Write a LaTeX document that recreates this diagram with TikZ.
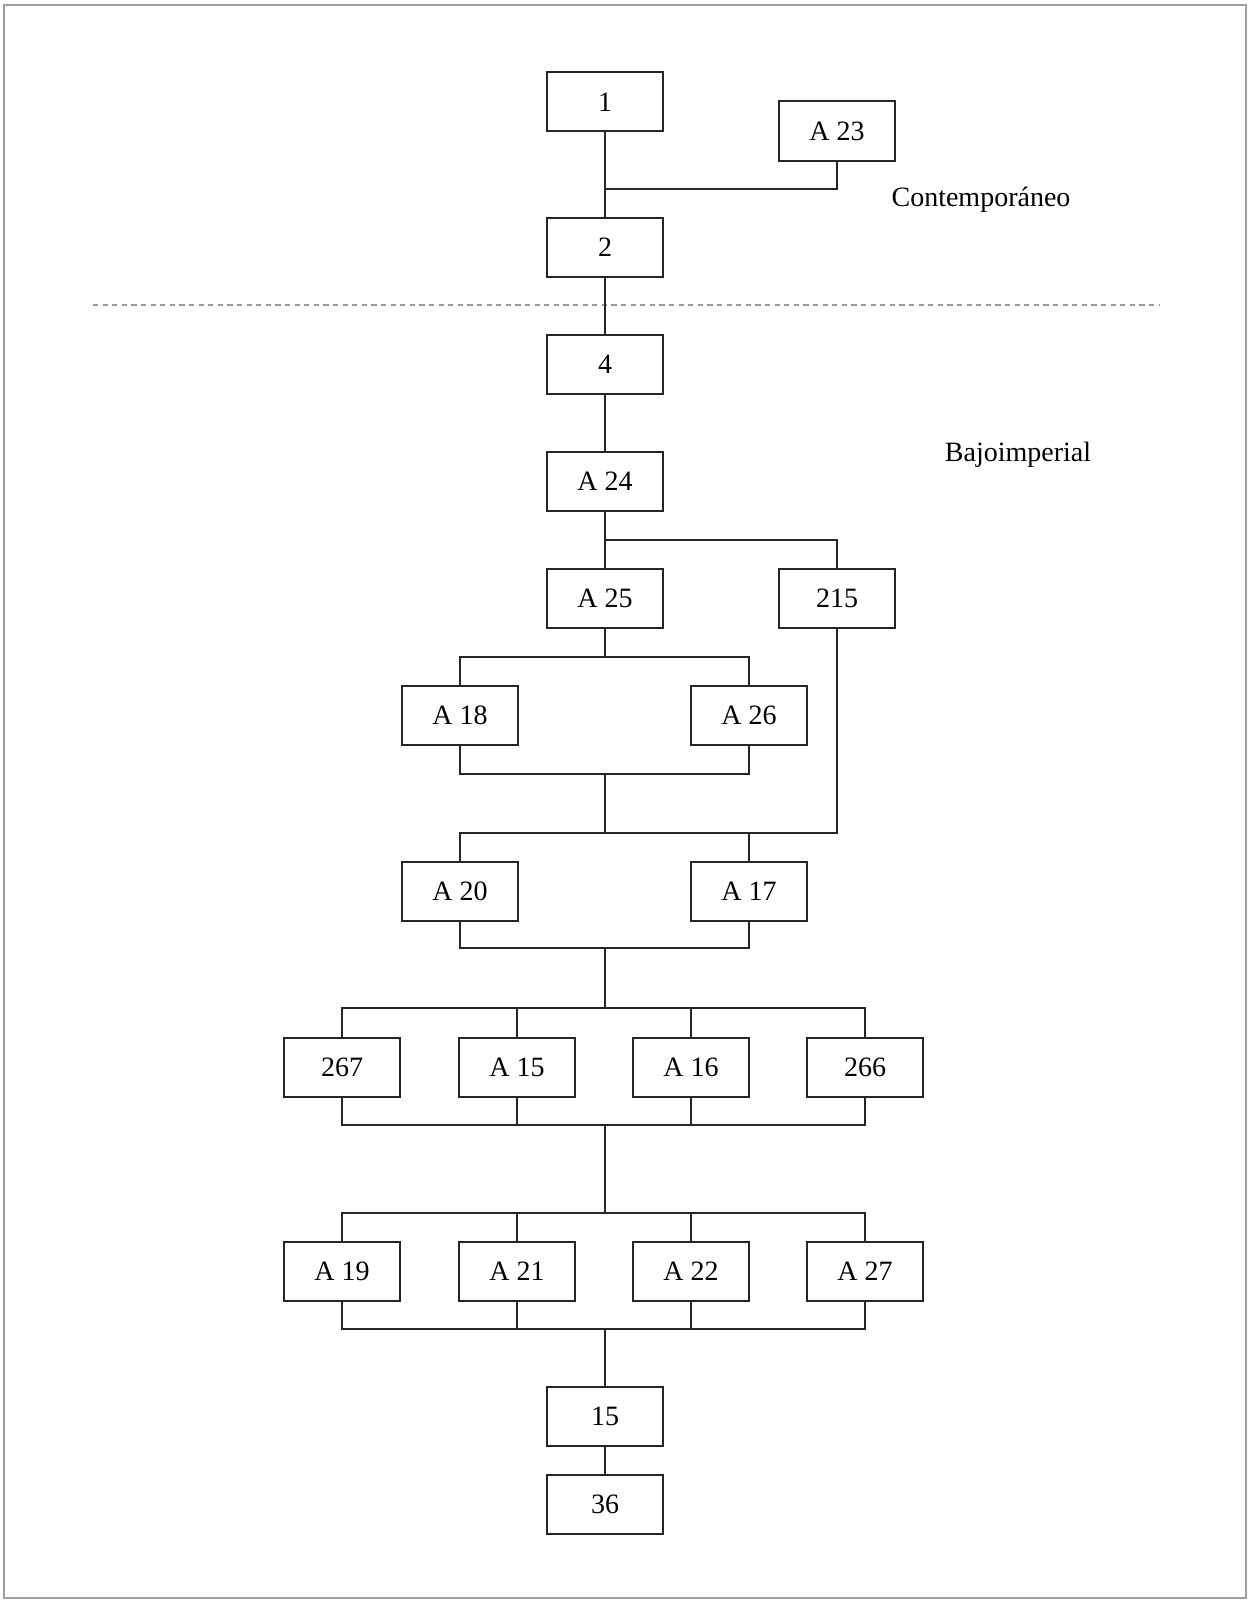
\documentclass[tikz,border=0pt]{standalone}
\usepackage{fontspec}
\setmainfont{Liberation Serif}
\begin{document}
\begin{tikzpicture}[x=0.5pt,y=-0.5pt,
  box/.style={draw=black!85,line width=1pt,minimum width=58pt,minimum height=29.5pt,inner sep=0pt,font=\fontsize{14}{16}\selectfont,fill=white},
  conn/.style={draw=black!85,line width=1pt},
  lbl/.style={font=\fontsize{14}{16}\selectfont,inner sep=0pt}]
\useasboundingbox (0,0) rectangle (1251,1600);
\draw[gray!75,line width=1.1pt] (4,5) rectangle (1246,1598);
\draw[gray!80,line width=1.1pt,dash pattern=on 2.6pt off 2.2pt] (93,305) -- (1159,305);
% nodes
\node[box] (n1) at (605,102) {1};
\node[box] (a23) at (837,131) {A 23};
\node[box] (n2) at (605,247) {2};
\node[box] (n4) at (605,364) {4};
\node[box] (a24) at (605,481) {A 24};
\node[box] (a25) at (605,598) {A 25};
\node[box] (n215) at (837,598) {215};
\node[box] (a18) at (460,715) {A 18};
\node[box] (a26) at (749,715) {A 26};
\node[box] (a20) at (460,891) {A 20};
\node[box] (a17) at (749,891) {A 17};
\node[box] (n267) at (342,1067) {267};
\node[box] (a15) at (517,1067) {A 15};
\node[box] (a16) at (691,1067) {A 16};
\node[box] (n266) at (865,1067) {266};
\node[box] (a19) at (342,1271) {A 19};
\node[box] (a21) at (517,1271) {A 21};
\node[box] (a22) at (691,1271) {A 22};
\node[box] (a27) at (865,1271) {A 27};
\node[box] (n15) at (605,1416) {15};
\node[box] (n36) at (605,1504) {36};
\node[lbl] (cont) at (981,200) {Contemporáneo};
\node[lbl] (bajo) at (1018,455) {Bajoimperial};
% connectors
\draw[conn] (n1.south) -- (n2.north);
\draw[conn] (a23.south) |- (605,189);
\draw[conn] (n2.south) -- (n4.north);
\draw[conn] (n4.south) -- (a24.north);
\draw[conn] (a24.south) -- (a25.north);
\draw[conn] (605,540) -| (n215.north);
\draw[conn] (a25.south) -- (605,657);
\draw[conn] (a18.north) |- (605,657) -| (a26.north);
\draw[conn] (a18.south) |- (605,774) -| (a26.south);
\draw[conn] (605,774) -- (605,833);
\draw[conn] (a20.north) |- (749,833) -| (n215.south);
\draw[conn] (a17.north) -- (749,833);
\draw[conn] (a20.south) |- (605,948) -| (a17.south);
\draw[conn] (605,948) -- (605,1008);
\draw[conn] (n267.north) |- (605,1008) -| (n266.north);
\draw[conn] (a15.north) -- (517,1008);
\draw[conn] (a16.north) -- (691,1008);
\draw[conn] (n267.south) |- (605,1125) -| (n266.south);
\draw[conn] (a15.south) -- (517,1125);
\draw[conn] (a16.south) -- (691,1125);
\draw[conn] (605,1125) -- (605,1213);
\draw[conn] (a19.north) |- (605,1213) -| (a27.north);
\draw[conn] (a21.north) -- (517,1213);
\draw[conn] (a22.north) -- (691,1213);
\draw[conn] (a19.south) |- (605,1329) -| (a27.south);
\draw[conn] (a21.south) -- (517,1329);
\draw[conn] (a22.south) -- (691,1329);
\draw[conn] (605,1329) -- (n15.north);
\draw[conn] (n15.south) -- (n36.north);
\end{tikzpicture}
\end{document}
